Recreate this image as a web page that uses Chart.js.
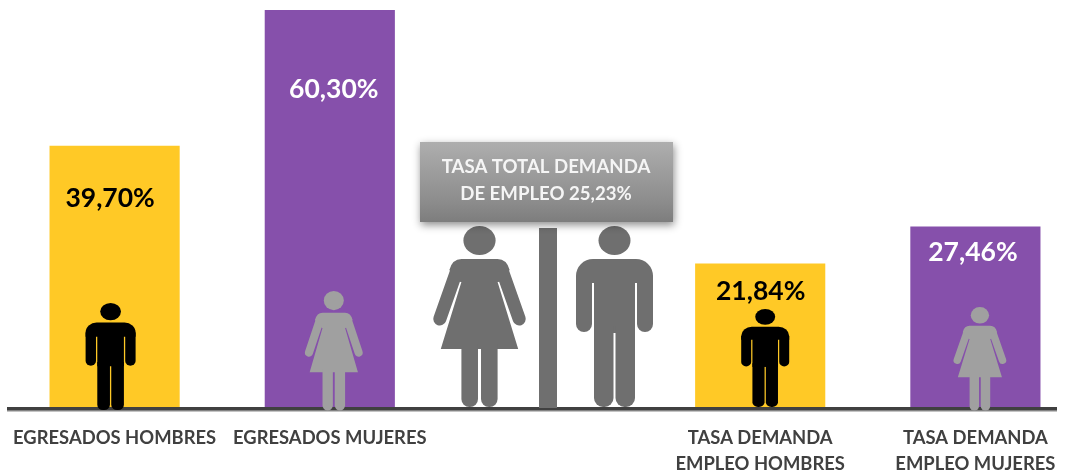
<!DOCTYPE html>
<html><head><meta charset="utf-8">
<style>html,body{margin:0;padding:0;background:#fff;width:1071px;height:473px;overflow:hidden}#w{position:relative;width:1083px;height:473px}canvas{display:block}</style>
<script src="https://cdn.jsdelivr.net/npm/chart.js@4"></script></head><body><div id="w"><canvas id="c" width="1083" height="473"></canvas></div>
<script>
const categories=[["EGRESADOS HOMBRES"],["EGRESADOS MUJERES"],"",["TASA DEMANDA","EMPLEO HOMBRES"],["TASA DEMANDA","EMPLEO MUJERES"]];
const rates=[39.70,60.30,null,21.84,27.46];
const valueLabels=["39,70%","60,30%","","21,84%","27,46%"];
const totalLabel=["TASA TOTAL DEMANDA","DE EMPLEO 25,23%"];
const barColors=["#FFC926","#8650AB","#ffffff","#FFC926","#8650AB"];
const FONT='Lato, "Open Sans", sans-serif';

function rr(ctx,x,y,w,h,r){ctx.beginPath();ctx.roundRect(x,y,w,h,r);ctx.fill();}
function man(ctx,cx,top,bottom,width,color){
  ctx.save();ctx.translate(cx,top);ctx.scale(width/77,(bottom-top)/181);ctx.fillStyle=color;
  ctx.beginPath();ctx.ellipse(0,14.5,16,14.5,0,0,Math.PI*2);ctx.fill();
  rr(ctx,-38.5,33,77,24,[17,17,0,0]);
  rr(ctx,-38.5,50,16,56,[0,0,8,8]);
  rr(ctx,22.5,50,16,56,[0,0,8,8]);
  ctx.fillRect(-20.5,50,41,57);
  rr(ctx,-20.5,100,19.5,81,[0,0,9,9]);
  rr(ctx,1,100,19.5,81,[0,0,9,9]);
  ctx.restore();
}
function woman(ctx,cx,top,bottom,width,color){
  ctx.save();ctx.translate(cx,top);ctx.scale(width/92.5,(bottom-top)/181);ctx.fillStyle=color;ctx.strokeStyle=color;
  ctx.beginPath();ctx.ellipse(0,14.5,16,14.5,0,0,Math.PI*2);ctx.fill();
  ctx.lineCap='round';ctx.lineWidth=13;
  for(const s of [-1,1]){ctx.beginPath();ctx.moveTo(s*23,46);ctx.lineTo(s*39.5,93);ctx.stroke();}
  ctx.beginPath();ctx.moveTo(-18,33);ctx.lineTo(18,33);ctx.quadraticCurveTo(27,33,30,44);ctx.lineTo(19,56);ctx.lineTo(18,56);ctx.lineTo(38.5,123);ctx.lineTo(-38.5,123);ctx.lineTo(-18,56);ctx.lineTo(-19,56);ctx.lineTo(-30,44);ctx.quadraticCurveTo(-27,33,-18,33);ctx.closePath();ctx.fill();
  rr(ctx,-18,118,16.5,63,[0,0,8,8]);
  rr(ctx,1.5,118,16.5,63,[0,0,8,8]);
  ctx.restore();
}
const deco={id:'deco',afterDatasetsDraw(chart){
  const ctx=chart.ctx,xs=chart.scales.x,ys=chart.scales.y;
  const X=i=>xs.getPixelForValue(i), base=ys.getPixelForValue(0);
  ctx.save();
  ctx.fillStyle='#c4c4c4';ctx.fillRect(7,base+2,1050,2);
  ctx.fillStyle='#404040';ctx.fillRect(7,base-1,1050,3.5);
  const c=X(2);
  ctx.fillStyle='#6f6f6f';ctx.fillRect(c-6,base-180,18,180);
  woman(ctx,c-65.5,base-182,base-1,93,'#6f6f6f');
  man(ctx,c+69.5,base-182,base-1,77,'#6f6f6f');
  man(ctx,X(0)-4,base-105,base+2,50,'#000');
  woman(ctx,X(1)+4,base-117,base+2.5,58,'#a0a0a0');
  man(ctx,X(3)+5,base-99,base-1,48,'#000');
  woman(ctx,X(4)+4.5,base-101,base+2.5,53,'#a0a0a0');
  const bx=c-125,by=base-266,bw=253,bh=80;
  ctx.save();ctx.shadowColor='rgba(0,0,0,0.45)';ctx.shadowBlur=8;ctx.shadowOffsetY=3;ctx.shadowOffsetX=1;
  const g=ctx.createLinearGradient(0,by,0,by+bh);g.addColorStop(0,'#aeaeae');g.addColorStop(0.75,'#8c8c8c');g.addColorStop(1,'#7d7d7d');
  ctx.fillStyle=g;ctx.fillRect(bx,by,bw,bh);ctx.restore();
  ctx.textAlign='center';ctx.textBaseline='middle';ctx.font='bold 18.6px '+FONT;
  ctx.fillStyle='#f5f5f5';
  ctx.fillText(totalLabel[0],c+1,by+25);ctx.fillText(totalLabel[1],c+1,by+52);
  ctx.font='bold 26.5px '+FONT;
  const dx=[-4.5,4,0,0.5,-2.5], dy=[52.5,79.5,0,27.5,25.5];
  rates.forEach((v,i)=>{if(v==null)return;
    ctx.fillStyle=barColors[i]==='#FFC926'?'#000':'#fff';
    ctx.fillText(valueLabels[i],X(i)+dx[i],ys.getPixelForValue(v)+dy[i]);
  });
  ctx.restore();
}};
new Chart(document.getElementById('c'),{type:'bar',
  data:{labels:categories,datasets:[{data:rates,backgroundColor:barColors,barThickness:129.5,borderWidth:0}]},
  options:{responsive:false,animation:false,devicePixelRatio:1,
    layout:{padding:{top:10,left:7,right:0,bottom:0}},
    plugins:{legend:{display:false},tooltip:{enabled:false},title:{display:false}},
    scales:{
      y:{display:false,min:0,max:60.3},
      x:{grid:{display:false},border:{display:false},
        afterFit(s){s.height=65;},
        ticks:{maxRotation:0,minRotation:0,autoSkip:false,color:'#404040',padding:8.5,
          font:{family:FONT,weight:'bold',size:18.4,lineHeight:1.44}}}
    }},
  plugins:[deco]});
</script></body></html>
